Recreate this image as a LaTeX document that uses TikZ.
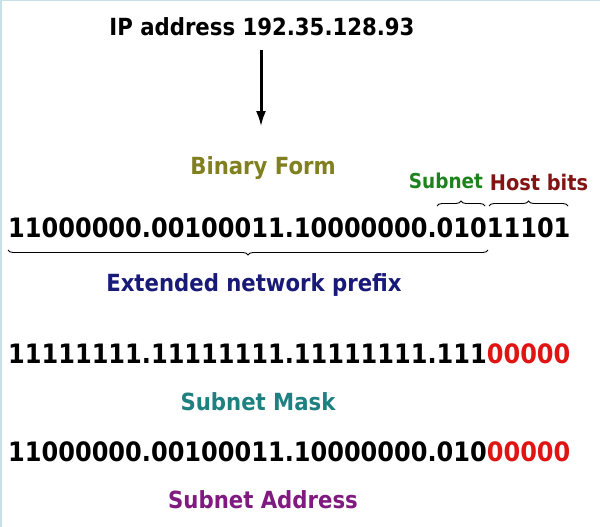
\documentclass[tikz,border=0pt]{standalone}
\usepackage{fontspec}
\setmainfont{DejaVu Sans Condensed}
\usetikzlibrary{arrows.meta,decorations.pathreplacing}
\definecolor{olivec}{RGB}{128,128,32}
\definecolor{subg}{RGB}{30,130,30}
\definecolor{hostr}{RGB}{130,20,20}
\definecolor{navyc}{RGB}{25,25,120}
\definecolor{tealc}{RGB}{30,128,128}
\definecolor{purpc}{RGB}{128,25,128}
\definecolor{zred}{RGB}{225,20,20}
\definecolor{framec}{RGB}{200,225,232}
\tikzset{
  big/.style={font=\fontsize{26.7}{30}\selectfont\bfseries, inner sep=0pt},
  lab/.style={font=\fontsize{23.6}{27}\selectfont\bfseries, inner sep=0pt},
  small/.style={font=\fontsize{20.5}{24}\selectfont\bfseries, inner sep=0pt},
  brc/.style={decorate, decoration={brace, amplitude=5pt}, line width=0.9pt},
}
\begin{document}
\begin{tikzpicture}[x=1pt,y=-1pt]
\useasboundingbox (0,0) rectangle (600,527);
\draw[framec, line width=1.5pt] (0.75,527) -- (0.75,0.75) -- (600,0.75);
\node[lab] (ip) at (262,27) {IP address 192.35.128.93};
\coordinate (a1) at (261,50);
\coordinate (a2) at (261,127);
\draw[line width=3pt, -{Latex[length=16pt,width=10pt]}] (a1) -- (a2);
\node[lab, text=olivec] (bf) at (263,168) {Binary Form};
\node[small, text=subg] (sn) at (446,181) {Subnet};
\node[small, font=\fontsize{21.5}{24}\selectfont\bfseries, text=hostr] (hb) at (539,182) {Host bits};
\node[big, anchor=west] (bin) at (8,228) {11000000.00100011.10000000.01011101};
\coordinate (s1) at (437,206);
\coordinate (s2) at (485,206);
\coordinate (h1) at (489,206);
\coordinate (h2) at (568,206);
\draw[brc] (s1) -- (s2);
\draw[brc] (h1) -- (h2);
\coordinate (e1) at (8,250);
\coordinate (e2) at (488,250);
\draw[brc] (e2) -- (e1);
\node[lab, text=navyc] (ext) at (254,285) {Extended network prefix};
\node[big, anchor=west] (mask) at (8,354) {11111111.11111111.11111111.111\textcolor{zred}{00000}};
\node[lab, text=tealc] (sm) at (258,402) {Subnet Mask};
\node[big, anchor=west] (addr) at (8,452) {11000000.00100011.10000000.010\textcolor{zred}{00000}};
\node[lab, text=purpc] (sa) at (263,500) {Subnet Address};
\end{tikzpicture}
\end{document}
